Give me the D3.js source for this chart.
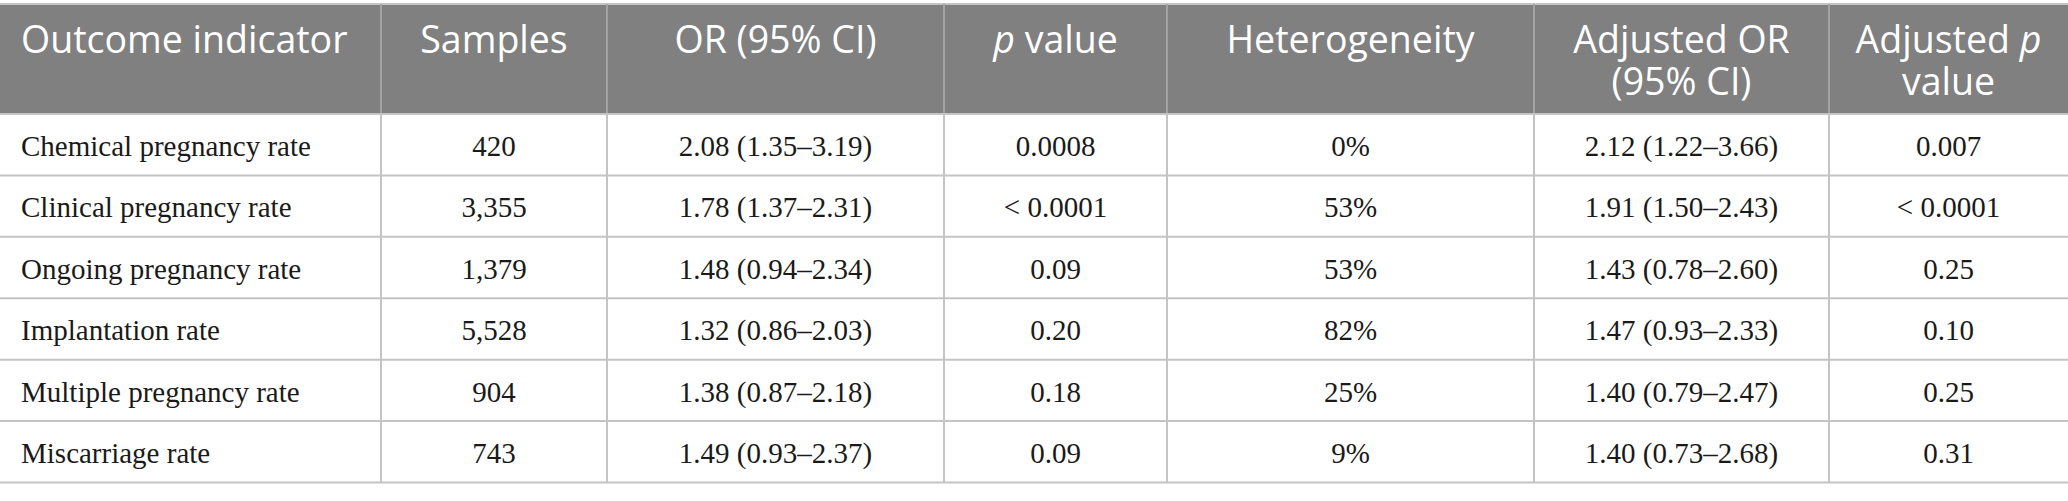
<!DOCTYPE html>
<html>
<head>
<meta charset="utf-8">
<style>
  body { margin: 0; background: #fff; }
  .hdr { font-family: "Open Sans", sans-serif; font-size: 37.5px; fill: #fff; }
  .cell { font-family: "Liberation Serif", serif; font-size: 29px; fill: #1a1a1a; }
  .grid { stroke: #c4c4c4; stroke-width: 2px; }
</style>
</head>
<body>
<svg width="2068" height="501"></svg>
<script src="https://d3js.org/d3.v7.min.js"></script>
<script>
// table contents
var outcomes = ["Chemical pregnancy rate", "Clinical pregnancy rate", "Ongoing pregnancy rate",
                "Implantation rate", "Multiple pregnancy rate", "Miscarriage rate"]
var samples = ["420", "3,355", "1,379", "5,528", "904", "743"]
var orCI = ["2.08 (1.35\u20133.19)", "1.78 (1.37\u20132.31)", "1.48 (0.94\u20132.34)",
            "1.32 (0.86\u20132.03)", "1.38 (0.87\u20132.18)", "1.49 (0.93\u20132.37)"]
var pValues = ["0.0008", "< 0.0001", "0.09", "0.20", "0.18", "0.09"]
var heterogeneity = ["0%", "53%", "53%", "82%", "25%", "9%"]
var adjOR = ["2.12 (1.22\u20133.66)", "1.91 (1.50\u20132.43)", "1.43 (0.78\u20132.60)",
             "1.47 (0.93\u20132.33)", "1.40 (0.79\u20132.47)", "1.40 (0.73\u20132.68)"]
var adjP = ["0.007", "< 0.0001", "0.25", "0.10", "0.25", "0.31"]

// header lines, [text, italic] pieces per line
var headers = [
  [[["Outcome indicator", false]]],
  [[["Samples", false]]],
  [[["OR (95% CI)", false]]],
  [[["p", true], [" value", false]]],
  [[["Heterogeneity", false]]],
  [[["Adjusted OR", false]], [["(95% CI)", false]]],
  [[["Adjusted ", false], ["p", true]], [["value", false]]]
]

var columns = [outcomes, samples, orCI, pValues, heterogeneity, adjOR, adjP]

// layout
const colEdges = [0, 381, 607, 944, 1167, 1534, 1829, 2068]
const tableTop = 4, headBottom = 114, tableBottom = 482.5
const W = 2068

const svg = d3.select('svg')

const y = d3.scaleBand()
  .domain(d3.range(outcomes.length))
  .range([headBottom, tableBottom])

// header band
svg.append('rect')
  .attr('x', 0).attr('y', tableTop)
  .attr('width', W).attr('height', headBottom - tableTop)
  .attr('fill', '#808080')

svg.append('line').attr('class', 'grid')
  .attr('x1', 0).attr('x2', W).attr('y1', tableTop).attr('y2', tableTop)

// vertical rules
colEdges.slice(1, -1).forEach(function (x) {
  svg.append('line')
    .attr('x1', x).attr('x2', x).attr('y1', tableTop).attr('y2', headBottom)
    .attr('stroke', '#a3a3a3').attr('stroke-width', 2)
  svg.append('line').attr('class', 'grid')
    .attr('x1', x).attr('x2', x).attr('y1', headBottom).attr('y2', tableBottom)
})

// horizontal rules
d3.range(outcomes.length).forEach(function (i) {
  svg.append('line').attr('class', 'grid')
    .attr('x1', 0).attr('x2', W)
    .attr('y1', y(i) + y.bandwidth()).attr('y2', y(i) + y.bandwidth())
})
svg.append('line').attr('class', 'grid')
  .attr('x1', 0).attr('x2', W).attr('y1', headBottom).attr('y2', headBottom)

// header text, one <text> per cell, lines as tspans
headers.forEach(function (lines, c) {
  var left = c === 0
  var x = left ? 21 : (colEdges[c] + colEdges[c + 1]) / 2
  var t = svg.append('text')
    .attr('class', 'hdr')
    .attr('x', x)
    .attr('y', 53)
    .attr('text-anchor', left ? 'start' : 'middle')
  lines.forEach(function (pieces, li) {
    var line = t.append('tspan')
    if (li > 0) line.attr('x', x).attr('dy', 42)
    pieces.forEach(function (p) {
      line.append('tspan').text(p[0]).attr('font-style', p[1] ? 'italic' : 'normal')
    })
  })
})

// body cells
columns.forEach(function (col, c) {
  var left = c === 0
  svg.append('g').selectAll('text')
    .data(col)
    .enter().append('text')
    .attr('class', 'cell')
    .attr('x', left ? 21 : (colEdges[c] + colEdges[c + 1]) / 2)
    .attr('y', function (d, i) { return y(i) + 42 })
    .attr('text-anchor', left ? 'start' : 'middle')
    .text(function (d) { return d })
})
</script>
</body>
</html>
